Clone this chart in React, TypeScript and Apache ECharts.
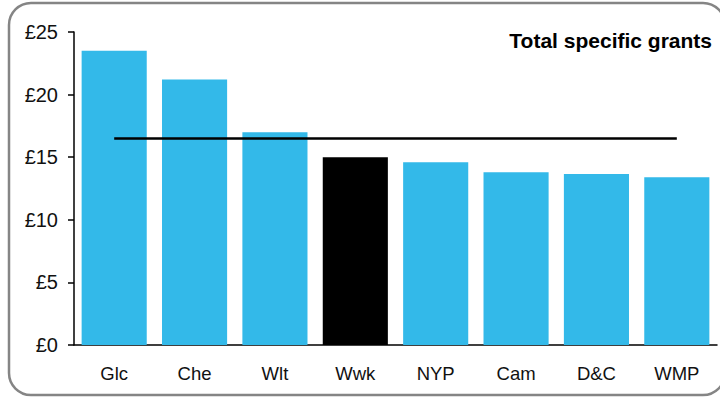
import React, { useEffect, useRef } from "react";
import * as echarts from "echarts";

const categories = ["Glc", "Che", "Wlt", "Wwk", "NYP", "Cam", "D&C", "WMP"];
const grantValues = [23.5, 21.2, 17.0, 15.0, 14.6, 13.8, 13.65, 13.4];
const highlightCategory = "Wwk";
const averageValue = 16.5;
const yTicks = [0, 5, 10, 15, 20, 25];

export default function App() {
  const ref = useRef<HTMLDivElement>(null);
  useEffect(() => {
    if (!ref.current) return;
    const chart = echarts.init(ref.current, undefined, { renderer: "svg" });
    const font = "'Liberation Sans', Arial, sans-serif";
    chart.setOption({
      animation: false,
      backgroundColor: "#ffffff",
      graphic: [
        {
          type: "rect",
          shape: { x: 9, y: 3, width: 716, height: 392, r: 22 },
          style: { fill: "none", stroke: "#858585", lineWidth: 2.5 },
          z: 0,
        },
        {
          type: "text",
          right: 8,
          top: 30,
          style: {
            text: "Total specific grants",
            font: `bold 21px ${font}`,
            fill: "#000",
          },
        },
      ],
      grid: { left: 74, right: 3, top: 32, bottom: 53 },
      xAxis: {
        type: "category",
        data: categories,
        axisLine: { lineStyle: { color: "#000", width: 1.5 } },
        axisTick: { show: false },
        axisLabel: { color: "#111", fontSize: 18.5, fontFamily: font, margin: 19 },
      },
      yAxis: {
        type: "value",
        min: yTicks[0],
        max: yTicks[yTicks.length - 1],
        interval: 5,
        splitLine: { show: false },
        axisLine: { show: true, lineStyle: { color: "#000", width: 1.5 } },
        axisTick: { show: true, length: 6, lineStyle: { color: "#000", width: 1.5 } },
        axisLabel: {
          color: "#111",
          fontSize: 20,
          fontFamily: font,
          margin: 16,
          formatter: (v: number) => "£" + v,
        },
      },
      series: [
        {
          type: "bar",
          barCategoryGap: "19%",
          data: grantValues.map((v, i) => ({
            value: v,
            itemStyle: { color: categories[i] === highlightCategory ? "#000000" : "#33b9e9" },
          })),
          z: 2,
        },
        {
          type: "line",
          data: categories.map(() => averageValue),
          symbol: "none",
          lineStyle: { color: "#000", width: 2.5 },
          z: 3,
        },
      ],
    });
    return () => chart.dispose();
  }, []);
  return (
    <div
      ref={ref}
      style={{ position: "fixed", left: 0, top: 0, width: 720, height: 398 }}
    />
  );
}
